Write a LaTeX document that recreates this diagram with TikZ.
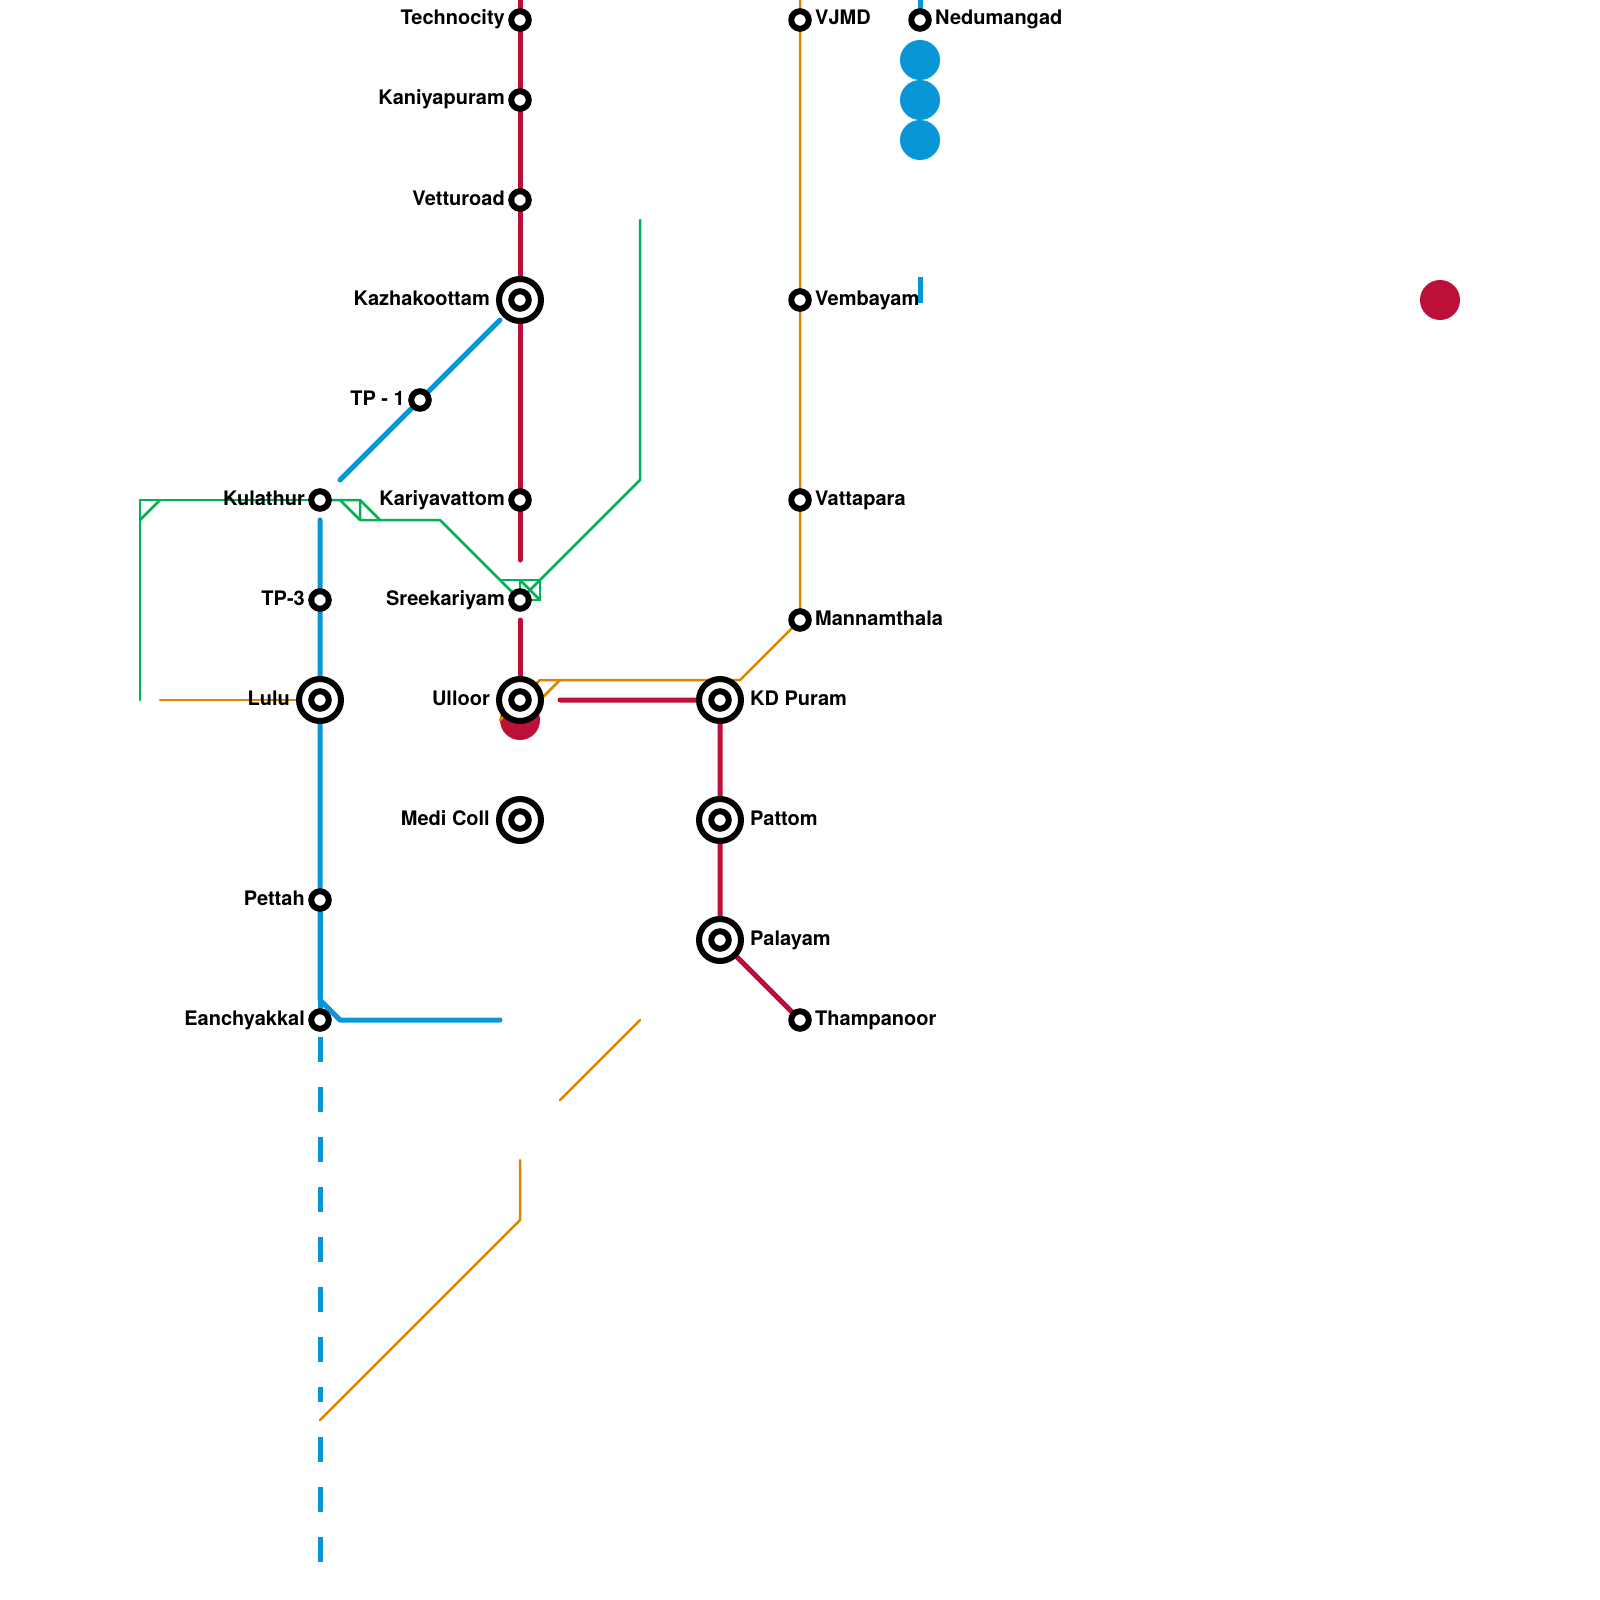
\documentclass[tikz,border=0pt]{standalone}
\usepackage{fontspec}
\setmainfont{TeX Gyre Heros}
\pgfdeclarelayer{background}
\pgfsetlayers{background,main}
\definecolor{mred}{HTML}{BD1038}
\definecolor{mblue}{HTML}{0896D7}
\definecolor{morange}{HTML}{E08300}
\definecolor{mgreen}{HTML}{00B251}
\tikzset{
  stn/.style={circle,draw=black,fill=white,line width=6pt,minimum size=17.5pt,inner sep=0pt,outer sep=0pt},
  bigstn/.style={circle,draw=black,fill=white,line width=6pt,minimum size=42pt,inner sep=0pt,outer sep=0pt},
  disc/.style={circle,minimum size=40pt,inner sep=0pt,outer sep=0pt},
  lblL/.style={anchor=base east,inner sep=0pt,font=\fontsize{20}{20}\selectfont\bfseries},
  lblR/.style={anchor=base west,inner sep=0pt,font=\fontsize{20}{20}\selectfont\bfseries},
  redline/.style={draw=mred,line width=5pt,line cap=round,line join=round},
  blueline/.style={draw=mblue,line width=5pt,line cap=round,line join=round},
  bluedash/.style={draw=mblue,line width=5pt,dash pattern=on 25pt off 25pt},
  blueflat/.style={draw=mblue,line width=5pt},
  orangeline/.style={draw=morange,line width=2.5pt,line cap=round,line join=round},
  greenline/.style={draw=mgreen,line width=2.5pt,line cap=round,line join=round},
}
\begin{document}
\begin{tikzpicture}[x=1pt,y=-1pt]
\useasboundingbox (0,0) rectangle (1600,1600);
% discs
\begin{pgfonlayer}{background}
\node[disc,fill=mred] (dRedA) at (520,720) {};
\end{pgfonlayer}
\node[disc,fill=mred] (dRedB) at (1440,300) {};
\node[disc,fill=mblue] (dBlueA) at (920,60) {};
\node[disc,fill=mblue] (dBlueB) at (920,100) {};
\node[disc,fill=mblue] (dBlueC) at (920,140) {};
% stations
\node[stn] (technocity) at (520,20) {};
\node[stn] (kaniyapuram) at (520,100) {};
\node[stn] (vetturoad) at (520,200) {};
\node[bigstn] (kazhakoottam) at (520,300) {};
\node[stn] (kazhakoottamI) at (520,300) {};
\node[stn] (tpone) at (420,400) {};
\node[stn] (kulathur) at (320,500) {};
\node[stn] (kariyavattom) at (520,500) {};
\node[stn] (tpthree) at (320,600) {};
\node[stn] (sreekariyam) at (520,600) {};
\node[bigstn] (lulu) at (320,700) {};
\node[stn] (luluI) at (320,700) {};
\node[bigstn] (ulloor) at (520,700) {};
\node[stn] (ulloorI) at (520,700) {};
\node[bigstn] (kdpuram) at (720,700) {};
\node[stn] (kdpuramI) at (720,700) {};
\node[bigstn] (medicoll) at (520,820) {};
\node[stn] (medicollI) at (520,820) {};
\node[bigstn] (pattom) at (720,820) {};
\node[stn] (pattomI) at (720,820) {};
\node[stn] (pettah) at (320,900) {};
\node[bigstn] (palayam) at (720,940) {};
\node[stn] (palayamI) at (720,940) {};
\node[stn] (eanchyakkal) at (320,1020) {};
\node[stn] (thampanoor) at (800,1020) {};
\node[stn] (vjmd) at (800,20) {};
\node[stn] (nedumangad) at (920,20) {};
\node[stn] (vembayam) at (800,300) {};
\node[stn] (vattapara) at (800,500) {};
\node[stn] (mannamthala) at (800,620) {};
% labels
\node[lblL] (lTechnocity) at (505,25) {Technocity};
\node[lblL] (lKaniyapuram) at (505,105) {Kaniyapuram};
\node[lblL] (lVetturoad) at (505,205) {Vetturoad};
\node[lblL] (lKazhakoottam) at (490,305) {Kazhakoottam};
\node[lblL] (lTpone) at (405,405) {TP - 1};
\node[lblL] (lKulathur) at (305,505) {Kulathur};
\node[lblL] (lKariyavattom) at (505,505) {Kariyavattom};
\node[lblL] (lTpthree) at (305,605) {TP-3};
\node[lblL] (lSreekariyam) at (505,605) {Sreekariyam};
\node[lblL] (lLulu) at (290,705) {Lulu};
\node[lblL] (lUlloor) at (490,705) {Ulloor};
\node[lblL] (lMedicoll) at (490,825) {Medi Coll};
\node[lblL] (lPettah) at (305,905) {Pettah};
\node[lblL] (lEanchyakkal) at (305,1025) {Eanchyakkal};
\node[lblR] (lKdpuram) at (750,705) {KD Puram};
\node[lblR] (lPattom) at (750,825) {Pattom};
\node[lblR] (lPalayam) at (750,945) {Palayam};
\node[lblR] (lThampanoor) at (815,1025) {Thampanoor};
\node[lblR] (lVjmd) at (815,25) {VJMD};
\node[lblR] (lNedumangad) at (935,25) {Nedumangad};
\node[lblR] (lVembayam) at (815,305) {Vembayam};
\node[lblR] (lVattapara) at (815,505) {Vattapara};
\node[lblR] (lMannamthala) at (815,625) {Mannamthala};
% free ends
\coordinate (rTop) at (520,0);
\coordinate (rEndA) at (520,560);
\coordinate (rStartB) at (520,620);
\coordinate (rStartC) at (560,700);
\coordinate (bStartA) at (340,480);
\coordinate (bEndA) at (500,320);
\coordinate (bStartB) at (320,520);
\coordinate (bBendB) at (320,1000);
\coordinate (bBendC) at (340,1020);
\coordinate (bEndC) at (500,1020);
\coordinate (bDashS) at (320,1037);
\coordinate (bDashM) at (320,1402);
\coordinate (bDashN) at (320,1437);
\coordinate (bDashE) at (320,1563);
\coordinate (bTop) at (920,0);
\coordinate (bStubA) at (920,277);
\coordinate (bStubB) at (920,303);
\coordinate (oTop) at (800,0);
\coordinate (oA) at (740,680);
\coordinate (oB) at (540,680);
\coordinate (oC) at (500,720);
\coordinate (oD) at (560,680);
\coordinate (oE) at (520,720);
\coordinate (oF) at (160,700);
\coordinate (oG) at (640,1020);
\coordinate (oH) at (560,1100);
\coordinate (oI) at (520,1160);
\coordinate (oJ) at (520,1220);
\coordinate (oK) at (320,1420);
\coordinate (gA) at (140,700);
\coordinate (gB) at (140,500);
\coordinate (gC) at (360,500);
\coordinate (gD) at (360,520);
\coordinate (gE) at (440,520);
\coordinate (gF) at (500,580);
\coordinate (gG) at (540,580);
\coordinate (gH) at (540,600);
\coordinate (gI) at (640,480);
\coordinate (gJ) at (640,220);
\coordinate (gK) at (160,500);
\coordinate (gL) at (140,520);
\coordinate (gM) at (340,500);
\coordinate (gN) at (380,520);
\coordinate (gO) at (520,580);
\begin{pgfonlayer}{background}
% green
\draw[greenline] (gA) -- (gB) -- (kulathur);
\draw[greenline] (kulathur) -- (gC) -- (gD) -- (gE) -- (gF) -- (sreekariyam);
\draw[greenline] (gK) -- (gL);
\draw[greenline] (gM) -- (gD);
\draw[greenline] (gC) -- (gN);
\draw[greenline] (gF) -- (gG) -- (gH) -- (sreekariyam);
\draw[greenline] (gO) -- (sreekariyam);
\draw[greenline] (gO) -- (gH);
\draw[greenline] (sreekariyam) -- (gG) -- (gI) -- (gJ);
% orange
\draw[orangeline] (oTop) -- (vjmd) -- (vembayam) -- (vattapara) -- (mannamthala) -- (oA) -- (oB) -- (oC);
\draw[orangeline] (oD) -- (oE);
\draw[orangeline] (oF) -- (lulu);
\draw[orangeline] (oG) -- (oH);
\draw[orangeline] (oI) -- (oJ) -- (oK);
% red
\draw[redline] (rTop) -- (technocity) -- (kaniyapuram) -- (vetturoad) -- (kazhakoottam) -- (kariyavattom) -- (rEndA);
\draw[redline] (rStartB) -- (ulloor);
\draw[redline] (rStartC) -- (kdpuram) -- (pattom) -- (palayam) -- (thampanoor);
% blue
\draw[blueline] (bStartA) -- (tpone) -- (bEndA);
\draw[blueline] (bStartB) -- (tpthree) -- (lulu) -- (pettah) -- (bBendB) -- (bBendC) -- (bEndC);
\draw[blueline] (pettah) -- (eanchyakkal);
\draw[bluedash] (bDashS) -- (bDashM);
\draw[bluedash] (bDashN) -- (bDashE);
\draw[blueflat] (bTop) -- (nedumangad);
\draw[blueflat] (bStubA) -- (bStubB);
\end{pgfonlayer}
\end{tikzpicture}
\end{document}
